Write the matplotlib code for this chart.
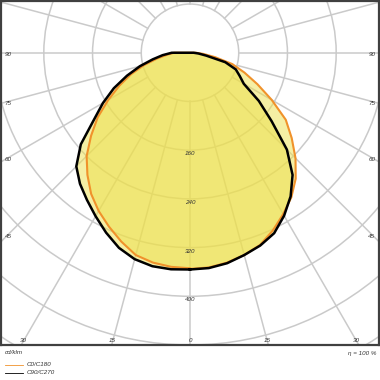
import numpy as np
import matplotlib
matplotlib.use('Agg')
import matplotlib.pyplot as plt
from matplotlib.patches import Circle

plt.rcParams['font.family'] = ['Liberation Sans', 'DejaVu Sans']

# gamma angles (deg) and intensities (cd/klm)
gamma = [0, 5, 10, 15, 20, 25, 30, 35, 40, 45, 50, 55, 60, 65, 70, 75, 80, 85, 90]
c0 = [355, 354, 350, 344, 336, 322, 306, 290, 270, 245, 218, 192, 155, 122, 95, 72, 42, 22, 10]
c180 = [354, 353, 350, 344, 330, 315, 300, 283, 262, 240, 212, 185, 155, 128, 103, 78, 55, 38, 26]
c90 = [356, 355, 351, 344, 337, 327, 309, 288, 262, 225, 175, 138, 102, 90, 80, 60, 27, 14, 6]
c270 = [356, 357, 356, 351, 341, 326, 310, 295, 281, 264, 234, 193, 165, 138, 110, 85, 62, 45, 30]

ring_values = [80, 160, 240, 320, 400, 480, 560, 640]
ring_labels = [160, 240, 320, 400]
side_angles = [90, 75, 60, 45]
bottom_angles = [30, 15, 0, 15, 30]
bottom_signs = [-1, -1, 0, 1, 1]
series_names = ['C0/C180', 'C90/C270']

ORANGE = '#f0922b'
BLACK = '#000000'
FILL = '#ede04a'
GRID = '#cacaca'
TEXT = '#333333'


def curve(right, left):
    g = np.radians(gamma)
    r = np.array(right, float)
    l = np.array(left, float)
    x = np.concatenate([r * np.sin(g), -(l * np.sin(g))[::-1]])
    y = np.concatenate([-r * np.cos(g), -(l * np.cos(g))[::-1]])
    return np.append(x, x[0]), np.append(y, y[0])


fig = plt.figure(figsize=(3.8, 3.8), dpi=100)
ax = fig.add_axes([1 / 380, 35 / 380, 378 / 380, 344 / 380])
ax.set_xlim(-310.3, 310.3)
ax.set_ylim(-480, 85)

# polar grid
for rv in ring_values:
    ax.add_patch(Circle((0, 0), rv, fill=False, ec=GRID, lw=1.1, zorder=1))
for a in range(0, 360, 15):
    t = np.radians(a)
    ax.plot([80 * np.sin(t), 900 * np.sin(t)], [-80 * np.cos(t), -900 * np.cos(t)],
            color=GRID, lw=1.1, zorder=1)

# curves
xo, yo = curve(c0, c180)
xb, yb = curve(c90, c270)
ax.fill(xo, yo, color=FILL, alpha=0.5, lw=0, zorder=2)
ax.fill(xb, yb, color=FILL, alpha=0.5, lw=0, zorder=2)
ax.plot(xo, yo, color=ORANGE, lw=1.5, zorder=3, solid_joinstyle='round')
ax.plot(xb, yb, color=BLACK, lw=1.8, zorder=4, solid_joinstyle='round')

# labels
lab = dict(fontsize=4.5, style='italic', color=TEXT, zorder=5)
for v in ring_labels:
    ax.text(0, -v - 6, str(v), ha='center', va='center', **lab)
for a in side_angles:
    t = np.radians(a)
    xe = 298.5
    y = -xe / np.tan(t) if a != 90 else 0
    ax.text(-xe, y - 3, str(a), ha='center', va='center', **lab)
    ax.text(xe, y - 3, str(a), ha='center', va='center', **lab)
for a, s in zip(bottom_angles, bottom_signs):
    ye = 473
    ax.text(s * ye * np.tan(np.radians(a)), -ye, str(a), ha='center', va='center', **lab)

ax.set_xticks([])
ax.set_yticks([])
for sp in ax.spines.values():
    sp.set_color('#404040')
    sp.set_linewidth(1.6)

# footer
fig.text(5 / 380, 1 - 353 / 380, 'cd/klm', ha='left', va='center', fontsize=4.5,
         style='italic', color=TEXT)
fig.text(376 / 380, 1 - 353 / 380, 'η = 100 %', ha='right', va='center', fontsize=4.5,
         style='italic', color=TEXT)
for i, (name, col) in enumerate(zip(series_names, [ORANGE, BLACK])):
    yy = 1 - (365 + 7.5 * i) / 380
    fig.add_artist(plt.Line2D([5 / 380, 23 / 380], [yy, yy], color=col, lw=0.6))
    fig.text(27 / 380, yy, name, ha='left', va='center', fontsize=4.5,
             style='italic', color=TEXT)

fig.savefig('out.png', dpi=100)
